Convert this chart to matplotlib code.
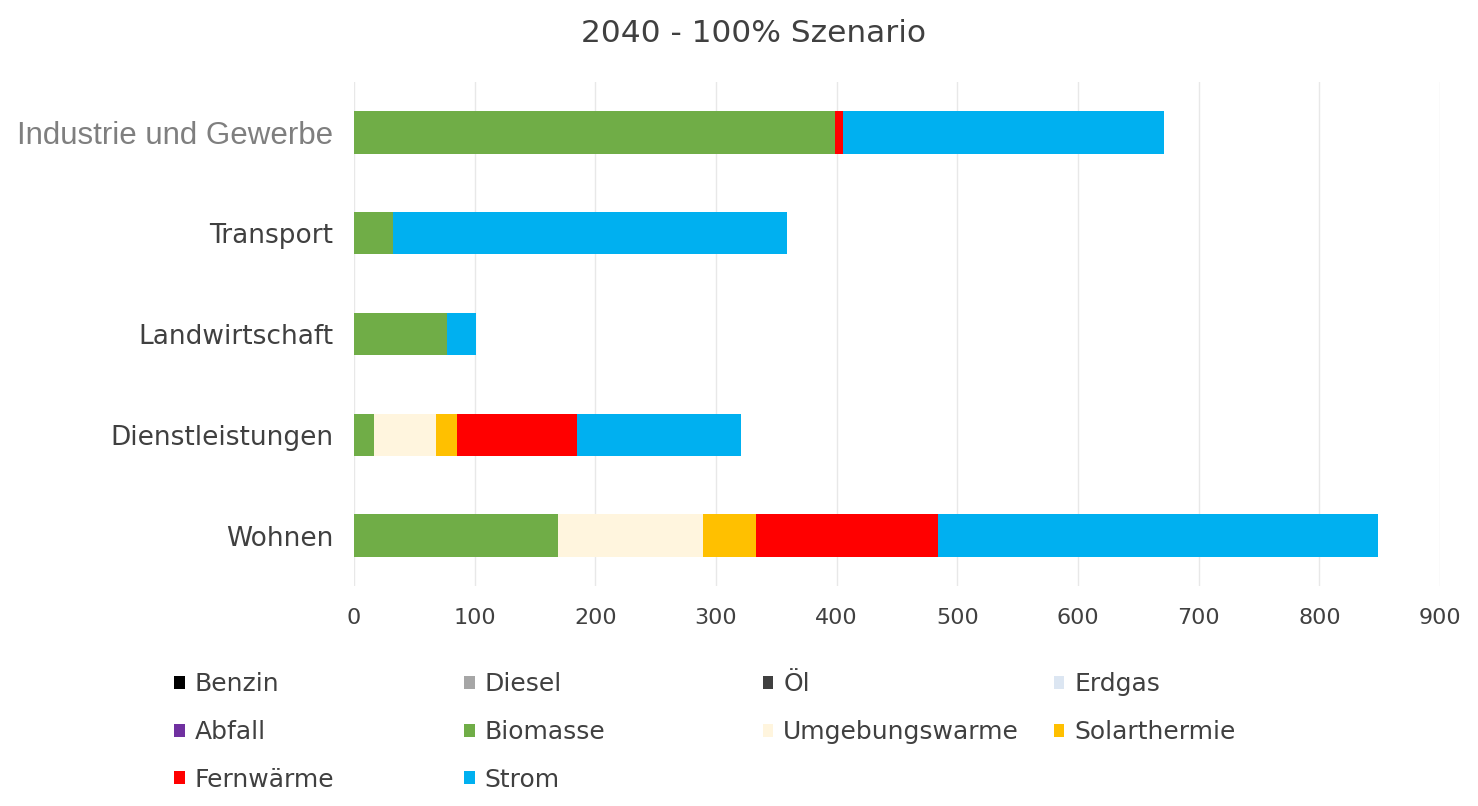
import matplotlib as mpl
import matplotlib.pyplot as plt
import numpy as np

mpl.rcParams.update(
    {
        "font.family": ["DejaVu Sans"],
        "axes.linewidth": 0,
    }
)

# =============================================================================
# Data
# =============================================================================

categories = ["Industrie und Gewerbe", "Transport", "Landwirtschaft", "Dienstleistungen", "Wohnen"]

series_names = [
    "Benzin", "Diesel", "Öl", "Erdgas", "Abfall",
    "Biomasse", "Umgebungswarme", "Solarthermie", "Fernwärme", "Strom",
]

benzin = [0, 0, 0, 0, 0]
diesel = [0, 0, 0, 0, 0]
oel = [0, 0, 0, 0, 0]
erdgas = [0, 0, 0, 0, 0]
abfall = [0, 0, 0, 0, 0]
biomasse = [399, 32, 77, 17, 169]
umgebungswaerme = [0, 0, 0, 51, 120]
solarthermie = [0, 0, 0, 17, 44]
fernwaerme = [6, 0, 0, 100, 151]
strom = [266, 327, 24, 136, 365]

x_ticks = [0, 100, 200, 300, 400, 500, 600, 700, 800, 900]

SERIES_COLORS = [
    "#000000",  # Benzin
    "#A6A6A6",  # Diesel
    "#404040",  # Öl
    "#DCE6F2",  # Erdgas
    "#7030A0",  # Abfall
    "#70AD47",  # Biomasse
    "#FFF5DE",  # Umgebungswärme
    "#FFC000",  # Solarthermie
    "#FF0000",  # Fernwärme
    "#00B0F0",  # Strom
]

# legend layout: rows as in the reference, one legend per column
LEGEND_COLUMNS = [
    [0, 4, 8],   # Benzin, Abfall, Fernwärme
    [1, 5, 9],   # Diesel, Biomasse, Strom
    [2, 6],      # Öl, Umgebungswarme
    [3, 7],      # Erdgas, Solarthermie
]
LEGEND_X = [0.118, 0.314, 0.516, 0.713]

# =============================================================================
# Plot
# =============================================================================

fig = plt.figure(figsize=(14.78, 8.06), dpi=100)
ax = fig.add_axes([0.2395, 0.273, 0.7348, 0.625])

values = [benzin, diesel, oel, erdgas, abfall, biomasse,
          umgebungswaerme, solarthermie, fernwaerme, strom]
y = np.arange(len(categories))
left = np.zeros(len(categories))
handles = []
for name, vals, color in zip(series_names, values, SERIES_COLORS):
    vals = np.array(vals, dtype=float)
    h = ax.barh(y, vals, left=left, height=0.42, color=color, label=name, zorder=3)
    handles.append(h)
    left += vals

ax.set_ylim(len(categories) - 0.5, -0.5)
ax.set_xlim(0, 900)
ax.set_xticks(x_ticks)
ax.set_xticklabels([str(t) for t in x_ticks])
ax.set_yticks(y)
ax.set_yticklabels(categories)

ax.grid(axis="x", color="#E8E8E8", linewidth=1.0, zorder=0)
ax.tick_params(axis="x", length=0, labelsize=16, colors="#404040", pad=16)
ax.tick_params(axis="y", length=0, labelsize=19, colors="#404040", pad=15)
for lbl in ax.get_yticklabels():
    if lbl.get_text() == "Industrie und Gewerbe":
        lbl.set_color("#7F7F7F")
        lbl.set_fontsize(22.5)
        lbl.set_family("Liberation Sans")
for s in ax.spines.values():
    s.set_visible(False)

fig.text(0.51, 0.958, "2040 - 100% Szenario", fontsize=22.5, color="#404040",
         ha="center", va="center")

for col, x0 in zip(LEGEND_COLUMNS, LEGEND_X):
    leg = fig.legend(
        [handles[i] for i in col],
        [series_names[i] for i in col],
        loc="upper left",
        bbox_to_anchor=(x0, 0.166),
        frameon=False,
        fontsize=18,
        handlelength=0.42,
        handleheight=0.42,
        handletextpad=0.4,
        labelspacing=0.95,
        borderaxespad=0,
        borderpad=0,
    )
    for t in leg.get_texts():
        t.set_color("#404040")

fig.savefig("out.png", dpi=100, facecolor="white")
plt.close(fig)
